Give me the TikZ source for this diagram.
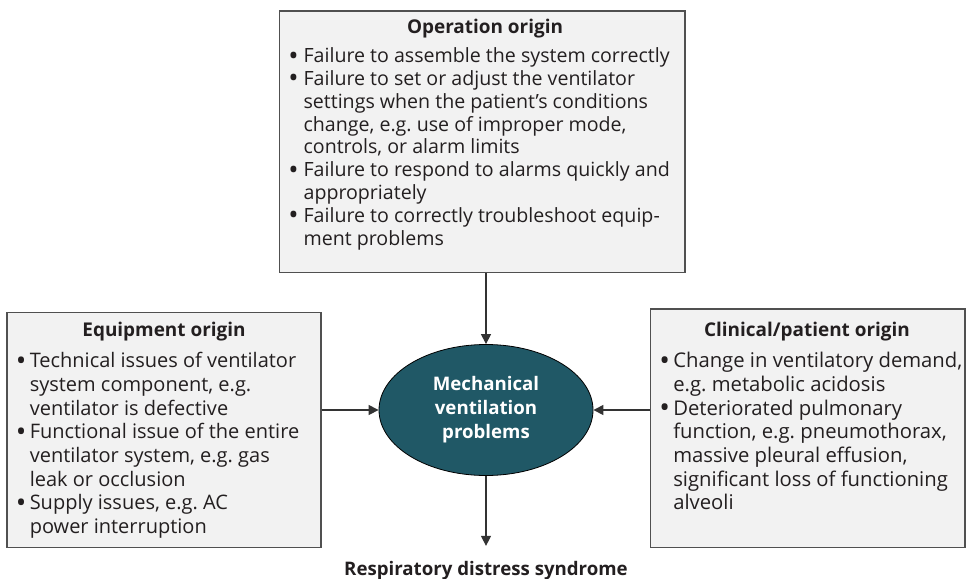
\documentclass[tikz,border=0pt]{standalone}
\usepackage{fontspec}
\usepackage{graphicx}
\setmainfont{Open Sans}
\usetikzlibrary{arrows.meta,shapes.geometric,fit}
\definecolor{txt}{HTML}{231F20}
\definecolor{boxfill}{HTML}{F2F2F2}
\definecolor{boxline}{HTML}{505050}
\definecolor{arrline}{HTML}{333333}
\definecolor{ellfill}{RGB}{32,88,102}
\newlength\bind
\newcommand{\bul}{\smash{\raisebox{-0.12em}{\scalebox{1.4}{\textbullet}}}}
\newcommand{\itm}[1]{\par\noindent\hangindent=\bind\hangafter=1\makebox[\bind][l]{\bul}#1\par}
\newcommand{\bodybox}[2]{\begin{minipage}[t]{330pt}\frenchspacing\setlength\parskip{0pt}\setlength\bind{#1}#2\end{minipage}}
\begin{document}
\begin{tikzpicture}[x=0.75pt,y=-0.75pt,
  box/.style={draw=boxline, line width=1pt, fill=boxfill, inner sep=0pt},
  ttl/.style={font=\fontsize{14.2}{18}\selectfont\bfseries, text=txt, anchor=base, inner sep=0pt},
  body/.style={anchor=base west, inner sep=0pt, text=txt},
  arr/.style={draw=arrline, line width=0.9pt, -{Triangle[length=7.5pt,width=7.5pt]}}]
\useasboundingbox (0,0) rectangle (966,578);
\node[box, fit={(279.5,11)(685,272.7)}] (op) {};
\node[box, fit={(7,312.3)(321,547.7)}] (eq) {};
\node[box, fit={(650.7,309)(965,547.7)}] (cl) {};
\node[ellipse, draw=black, line width=0.6pt, fill=ellfill, minimum width=214*0.75pt, minimum height=131*0.75pt, inner sep=0pt, text=white, align=center, font=\fontsize{14}{18}\selectfont\bfseries] (ell) at (486,410) {Mechanical\\ventilation\\problems};
\node[ttl] (opt) at (485,33.3) {Operation origin};
\node[ttl] (eqt) at (164,336.7) {Equipment origin};
\node[ttl] (clt) at (807,336.7) {Clinical/patient origin};
\node[body, font=\fontsize{14.7}{17.1}\selectfont] (opb) at (288,62.7) {\bodybox{11.5pt}{%
\itm{Failure to assemble the system correctly}
\itm{Failure to set or adjust the ventilator\newline settings when the patient’s conditions\newline change, e.g. use of improper mode,\newline controls, or alarm limits}
\itm{Failure to respond to alarms quickly and\newline appropriately}
\itm{Failure to correctly troubleshoot equip-\newline ment problems}}};
\node[body, font=\fontsize{15}{17.75}\selectfont] (eqb) at (15.5,367.7) {\bodybox{10.5pt}{%
\itm{Technical issues of ventilator\newline system component, e.g.\newline ventilator is defective}
\itm{Functional issue of the entire\newline ventilator system, e.g. gas\newline leak or occlusion}
\itm{Supply issues, e.g. AC\newline power interruption}}};
\node[body, font=\fontsize{15.2}{17.75}\selectfont] (clb) at (659,367.7) {\bodybox{10.5pt}{%
\itm{Change in ventilatory demand,\newline e.g. metabolic acidosis}
\itm{Deteriorated pulmonary\newline function, e.g. pneumothorax,\newline massive pleural effusion,\newline significant loss of functioning\newline alveoli}}};
\node[ttl, font=\fontsize{14}{18}\selectfont\bfseries, anchor=base, inner ysep=11pt] (res) at (486,575) {Respiratory distress syndrome};
\draw[arr] (ell.north |- op.south) -- (ell.north);
\draw[arr] (ell.west -| eq.east) -- (ell.west);
\draw[arr] (ell.east -| cl.west) -- (ell.east);
\draw[arr] (ell.south) -- (res.north);
\end{tikzpicture}
\end{document}
